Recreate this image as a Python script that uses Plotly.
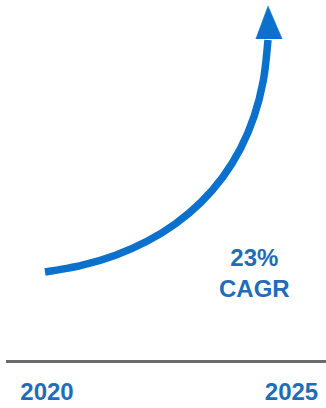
import plotly.graph_objects as go

# Growth curve from 2020 to the arrow head (x in years, y as index, 2020 = 1.0)
curve_years = [2019.959, 2020.703, 2021.401, 2022.045, 2022.628, 2023.144,
               2023.589, 2023.955, 2024.235, 2024.425, 2024.519]
curve_index = [1.000, 1.075, 1.191, 1.349, 1.549, 1.790,
               2.074, 2.400, 2.768, 3.181, 3.636]

# Arrow head triangle: left base, tip, right base
head_years = [2024.27, 2024.52, 2024.81]
head_index = [3.648, 4.023, 3.648]

# Axis ticks
tick_years = [2020, 2025]
tick_labels = ["2020", "2025"]

cagr_label = "23%<br>CAGR"

BLUE = "#0b71cc"
TEXT_BLUE = "#1f6db8"
FONT = "Liberation Sans, Arial, sans-serif"

fig = go.Figure()

fig.add_trace(go.Scatter(
    x=curve_years, y=curve_index,
    mode="lines",
    line=dict(color=BLUE, width=7.5, shape="spline", smoothing=0.9),
    hoverinfo="skip", showlegend=False,
))

fig.add_trace(go.Scatter(
    x=head_years, y=head_index,
    mode="lines", fill="toself", fillcolor=BLUE,
    line=dict(color=BLUE, width=0.5),
    hoverinfo="skip", showlegend=False,
))

fig.add_annotation(
    x=2024.25, y=0.99, xref="x", yref="y",
    text="<b>" + cagr_label.replace("<br>", "</b><br><b>") + "</b>",
    showarrow=False, align="center",
    xanchor="center", yanchor="middle",
    font=dict(family=FONT, size=24, color=TEXT_BLUE),
)

fig.update_layout(
    width=326, height=408,
    margin=dict(l=6, r=0, t=0, b=48),
    paper_bgcolor="white", plot_bgcolor="white",
    xaxis=dict(
        range=[2019.1616, 2025.7055],
        tickvals=tick_years, ticktext=["<b>%s</b>" % t for t in tick_labels],
        tickfont=dict(family=FONT, size=24, color=TEXT_BLUE),
        showline=True, linecolor="#6b6b6b", linewidth=2.5,
        showgrid=False, zeroline=False,
        ticks="outside", ticklen=8, tickcolor="rgba(0,0,0,0)",
        fixedrange=True,
    ),
    yaxis=dict(
        range=[0, 4.0909],
        visible=False, showgrid=False, zeroline=False,
        fixedrange=True,
    ),
)

fig.write_html("out.html")
